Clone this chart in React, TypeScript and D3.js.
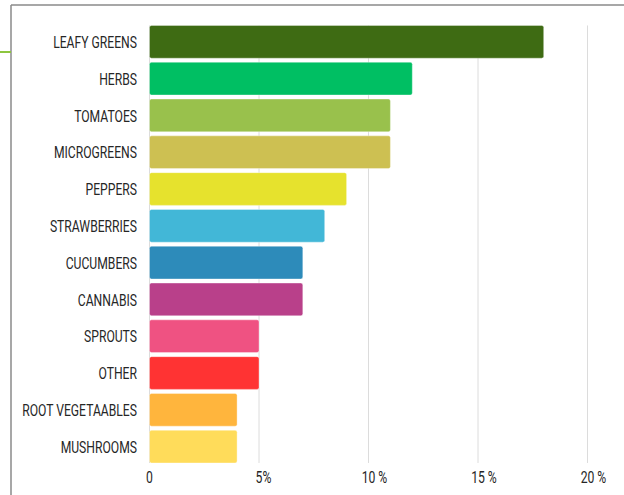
import React from "react";
import * as d3 from "d3";

const categories = [
  "LEAFY GREENS", "HERBS", "TOMATOES", "MICROGREENS", "PEPPERS", "STRAWBERRIES",
  "CUCUMBERS", "CANNABIS", "SPROUTS", "OTHER", "ROOT VEGETAABLES", "MUSHROOMS",
];
const values = [18, 12, 11, 11, 9, 8, 7, 7, 5, 5, 4, 4];
const colors = [
  "#3e6b13", "#00bf63", "#99c14c", "#cdc052", "#e6e22d", "#42b7d7",
  "#2d8bba", "#b9408a", "#ef5282", "#ff3333", "#ffb53d", "#ffdc5a",
];
const tickValues = [0, 5, 10, 15, 20];
const tickLabels = ["0", "5%", "10 %", "15 %", "20 %"];

const W = 624;
const H = 495;
const FONT = "Roboto, sans-serif";
const LSX = 0.715;
const TSX = 0.74;
const TFS = 16.5;
const DIGIT_W = TFS * 0.562 * TSX;

export default function App() {
  const x = d3.scaleLinear().domain([0, 20]).range([149.5, 587.5]);
  const y = d3.scaleBand<string>().domain(categories).range([23.45, 465]).paddingInner(0.111).paddingOuter(0.055);
  const gridTop = y(categories[0])!;
  const gridBottom = y(categories[categories.length - 1])! + y.bandwidth();

  return (
    <svg width={W} height={H} style={{ position: "absolute", left: 0, top: 0 }}>
      <rect x={0} y={0} width={W} height={H} fill="#fff" />
      <line x1={11} x2={11} y1={5} y2={H} stroke="#8a8a8a" strokeWidth={1.5} />
      <line x1={11} x2={W} y1={5} y2={5} stroke="#8a8a8a" strokeWidth={1.5} />
      <line x1={0} x2={11} y1={52} y2={52} stroke="#8dc63f" strokeWidth={2} />
      {tickValues.map((t) => (
        <line key={t} x1={x(t)} x2={x(t)} y1={gridTop} y2={gridBottom} stroke="#dcdcdc" strokeWidth={1} />
      ))}
      {categories.map((c, i) => (
        <rect
          key={c}
          x={x(0)}
          y={y(c)!}
          width={x(values[i]) - x(0)}
          height={y.bandwidth()}
          rx={2}
          fill={colors[i]}
          stroke="rgba(255,255,255,0.35)"
          strokeWidth={1}
        />
      ))}
      {categories.map((c) => {
        const cy = y(c)! + y.bandwidth() / 2;
        return (
          <text
            key={c}
            transform={`translate(137,${cy + 0.5}) scale(${LSX},1)`}
            textAnchor="end"
            dominantBaseline="central"
            fontFamily={FONT}
            fontSize={17}
            fill="#262626"
          >
            {c}
          </text>
        );
      })}
      {tickValues.map((t, i) => {
        const label = tickLabels[i];
        const num = (label.match(/^\d+/) || [""])[0];
        const left = x(t) - (num.length * DIGIT_W) / 2;
        return (
          <text
            key={t}
            transform={`translate(${left},483) scale(${TSX},1)`}
            textAnchor="start"
            fontFamily={FONT}
            fontSize={TFS}
            fill="#262626"
            style={{ whiteSpace: "pre" }}
          >
            {label}
          </text>
        );
      })}
    </svg>
  );
}
